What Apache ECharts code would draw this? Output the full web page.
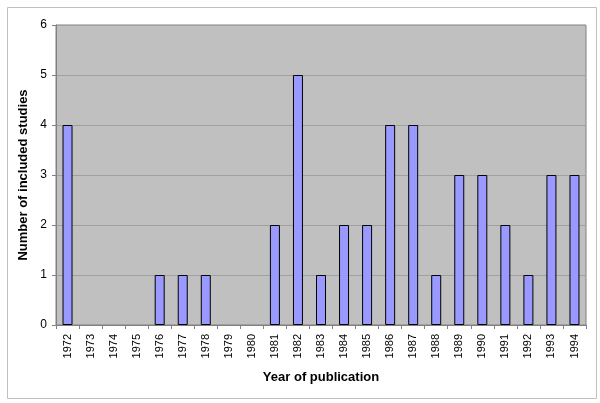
<!DOCTYPE html>
<html>
<head>
<meta charset="utf-8">
<script src="https://cdn.jsdelivr.net/npm/echarts@6/dist/echarts.min.js"></script>
<style>html,body{margin:0;padding:0;background:#fff}#c{width:600px;height:403px}</style>
</head>
<body>
<div id="c"></div>
<script>
const years = ['1972','1973','1974','1975','1976','1977','1978','1979','1980','1981','1982','1983','1984','1985','1986','1987','1988','1989','1990','1991','1992','1993','1994'];
const studies = [4,0,0,0,1,1,1,0,0,2,5,1,2,2,4,4,1,3,3,2,1,3,3];
const yTicks = [0,1,2,3,4,5,6];

const chart = echarts.init(document.getElementById('c'));
chart.setOption({
  animation: false,
  backgroundColor: '#fff',
  graphic: [{
    type: 'rect', left: 5, top: 5,
    shape: {width: 589, height: 391},
    style: {fill: 'none', stroke: '#c0c0c0', lineWidth: 1}
  }],
  grid: {left: 56, right: 14, top: 25, bottom: 78, show: true, backgroundColor: '#c0c0c0', borderColor: '#808080', borderWidth: 1},
  xAxis: {
    type: 'category', data: years,
    name: 'Year of publication', nameLocation: 'middle', nameGap: 46,
    nameTextStyle: {fontFamily: 'Liberation Sans, Arial', fontWeight: 'bold', fontSize: 13, color: '#000'},
    axisLine: {lineStyle: {color: '#808080'}},
    axisTick: {show: true, alignWithLabel: false, length: 4, lineStyle: {color: '#808080'}},
    axisLabel: {rotate: 90, margin: 9, fontFamily: 'Liberation Sans, Arial', fontSize: 11, color: '#000'}
  },
  yAxis: {
    type: 'value', min: yTicks[0], max: yTicks[yTicks.length-1], interval: 1,
    name: 'Number of included studies', nameLocation: 'middle', nameGap: 25,
    nameTextStyle: {fontFamily: 'Liberation Sans, Arial', fontWeight: 'bold', fontSize: 13, color: '#000'},
    axisLine: {show: true, lineStyle: {color: '#808080'}},
    axisTick: {show: true, length: 4, lineStyle: {color: '#808080'}},
    axisLabel: {margin: 9, fontFamily: 'Liberation Sans, Arial', fontSize: 12, color: '#000'},
    splitLine: {show: true, lineStyle: {color: '#a0a0a0', width: 1}}
  },
  series: [{
    type: 'bar', barWidth: 10,
    data: studies.map(v => v === 0 ? {value: v, itemStyle: {borderWidth: 0}} : v),
    itemStyle: {color: '#9999ff', borderColor: '#000', borderWidth: 1}
  }]
});
</script>
</body>
</html>
